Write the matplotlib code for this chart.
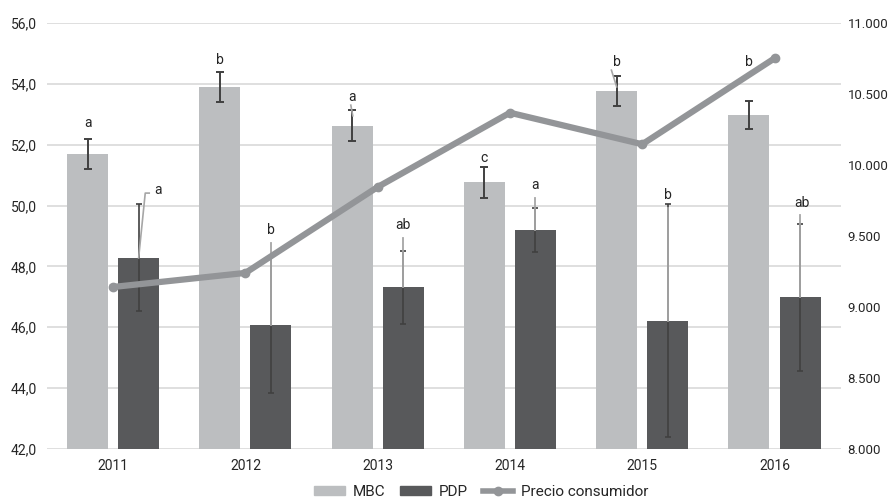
import matplotlib.pyplot as plt
import numpy as np
from matplotlib.lines import Line2D
from matplotlib.patches import Patch

plt.rcParams['font.family'] = ['Roboto', 'DejaVu Sans']

# Datos
years = ['2011', '2012', '2013', '2014', '2015', '2016']
mbc = [51.70, 53.89, 52.63, 50.76, 53.77, 52.98]
mbc_err = [0.50, 0.50, 0.50, 0.50, 0.50, 0.47]
pdp = [48.28, 46.08, 47.32, 49.19, 46.22, 46.98]
pdp_err = [1.76, 2.24, 1.20, 0.72, 3.83, 2.40]
precio = [9141, 9240, 9845, 10368, 10146, 10751]
mbc_letras = ['a', 'b', 'a', 'c', 'b', 'b']
pdp_letras = ['a', 'b', 'ab', 'a', 'b', 'ab']

# posiciones de las letras (eje izquierdo)
mbc_lab_y = [52.72, 54.78, 53.57, 51.56, 54.72, 54.72]
pdp_lab_y = [50.51, 49.20, 49.36, 50.68, 50.35, 50.10]

c_mbc = '#bcbec0'
c_pdp = '#58595b'
c_line = '#939598'
c_err = '#404040'
c_lead = '#a6a6a6'
c_txt = '#262626'

x = np.arange(len(years))
w = 0.31
off = 0.193

fig = plt.figure(figsize=(8.91, 5.04), dpi=100)
ax = fig.add_axes([0.0527, 0.1091, 0.8908, 0.8453])

ax.bar(x - off, mbc, w, color=c_mbc, zorder=2)
ax.bar(x + off, pdp, w, color=c_pdp, zorder=2)
ax.errorbar(x - off, mbc, yerr=mbc_err, fmt='none', ecolor=c_err,
            elinewidth=1.4, capsize=3, capthick=1.4, zorder=3)
ax.errorbar(x + off, pdp, yerr=pdp_err, fmt='none', ecolor=c_err,
            elinewidth=1.2, capsize=2, capthick=1.2, zorder=3)

# líneas guía de las etiquetas
for i in range(len(years)):
    xi = x[i] + off
    if i == 0:
        ax.plot([xi + 0.08, xi + 0.05, xi], [pdp_lab_y[i] - 0.1, pdp_lab_y[i] - 0.1, pdp[i]],
                color=c_lead, lw=1.2, zorder=4)
    else:
        ax.plot([xi, xi], [pdp_lab_y[i] - 0.42, pdp[i]], color=c_lead, lw=1.3, zorder=4)
ax.plot([2 - off - 0.01, 2 - off + 0.005], [53.3, 52.95], color=c_lead, lw=1.2, zorder=4)
ax.plot([4 - off - 0.04, 4 - off], [54.45, 53.9], color=c_lead, lw=1.2, zorder=4)

for i in range(len(years)):
    ax.text(x[i] - off, mbc_lab_y[i], mbc_letras[i], ha='center', va='center',
            fontsize=10, color=c_txt, zorder=5)
    dx = 0.336 - off if i == 0 else (0.012 if i == 5 else 0)
    ax.text(x[i] + off + dx, pdp_lab_y[i], pdp_letras[i], ha='center', va='center',
            fontsize=10, color=c_txt, zorder=5)

ax.set_xlim(-0.5, 5.5)
ax.set_ylim(42, 56)
ax.set_yticks(np.arange(42, 56.1, 2))
ax.set_yticklabels([f'{v:.1f}'.replace('.', ',') for v in np.arange(42, 56.1, 2)])
ax.set_xticks(x)
ax.set_xticklabels(years)
ax.grid(axis='y', color='#d9d9d9', lw=1.2, zorder=0)
ax.set_axisbelow(True)
for s in ax.spines.values():
    s.set_visible(False)
ax.tick_params(length=0, labelsize=10, colors=c_txt, pad=7)

ax2 = ax.twinx()
ax2.plot(x, precio, color=c_line, lw=4.5, marker='o', markersize=6,
         solid_joinstyle='round', zorder=6)
ax2.set_ylim(8000, 11000)
ax2.set_yticks(np.arange(8000, 11001, 500))
ax2.set_yticklabels([f'{v:,}'.replace(',', '.') for v in range(8000, 11001, 500)])
for s in ax2.spines.values():
    s.set_visible(False)
ax2.tick_params(length=0, labelsize=9.5, colors=c_txt, pad=5)

handles = [Patch(color=c_mbc, label='MBC'),
           Patch(color=c_pdp, label='PDP'),
           Line2D([0], [0], color=c_line, lw=4, marker='o', markersize=6,
                  label='Precio consumidor')]
fig.legend(handles=handles, loc='center', bbox_to_anchor=(0.54, 0.024), ncol=3,
           frameon=False, fontsize=11, handlelength=2.0, handleheight=0.5,
           columnspacing=1.0, handletextpad=0.5, labelcolor=c_txt)

fig.savefig('out.png', dpi=100)
